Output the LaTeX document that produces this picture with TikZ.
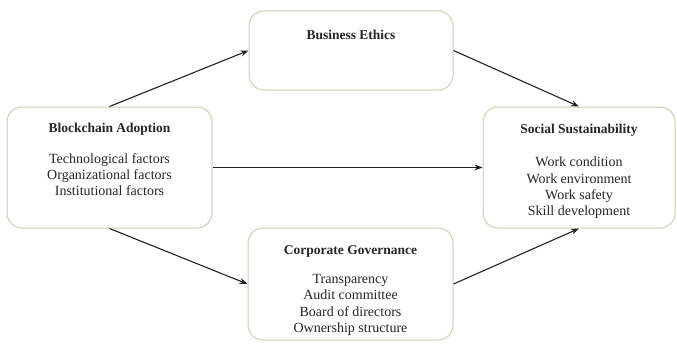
\documentclass[tikz,border=0pt]{standalone}
\usepackage{fontspec}
\setmainfont{Liberation Serif}
\usetikzlibrary{arrows.meta}
\definecolor{boxline}{HTML}{C3D4AE}
\definecolor{arrowline}{HTML}{222222}
\begin{document}
\begin{tikzpicture}[x=1pt,y=-1pt,
  block/.style={draw=boxline,line width=1pt,rounded corners=15pt,fill=white,
    minimum width=#1,inner sep=0pt},
  title/.style={font=\fontsize{13.5}{15}\selectfont\bfseries,text=black!85},
  body/.style={font=\fontsize{14}{16.3}\selectfont,align=center,text=black!85},
  link/.style={draw=arrowline,line width=1.1pt,-{Stealth[length=8pt,width=6pt]}}]
\useasboundingbox (0,0) rectangle (677,345);
% boxes
\node[block=205pt,minimum height=121pt] (ba) at (109.5,167.5) {};
\node[block=204pt,minimum height=79pt] (be) at (351,50.5) {};
\node[block=192pt,minimum height=121pt] (ss) at (579,167.5) {};
\node[block=205pt,minimum height=112pt] (cg) at (350.5,284) {};
% texts
\node[title] (bat) at (109.5,129) {Blockchain Adoption};
\node[body] (bab) at (109.5,174.5) {Technological factors\\Organizational factors\\Institutional factors};
\node[title] (bet) at (351,35) {Business Ethics};
\node[title] (sst) at (579,130) {Social Sustainability};
\node[body] (ssb) at (579,188) {Work condition\\Work environment\\Work safety\\Skill development};
\node[title] (cgt) at (350.5,251) {Corporate Governance};
\node[body] (cgb) at (350.5,305) {Transparency\\Audit committee\\Board of directors\\Ownership structure};
% connectors
\draw[link] (ba.north) -- (be.west);
\draw[link] (be.east) -- (ss.north);
\draw[link] (ba.east) -- (ss.west);
\draw[link] (ba.south) -- (cg.west);
\draw[link] (cg.east) -- (ss.south);
\end{tikzpicture}
\end{document}
